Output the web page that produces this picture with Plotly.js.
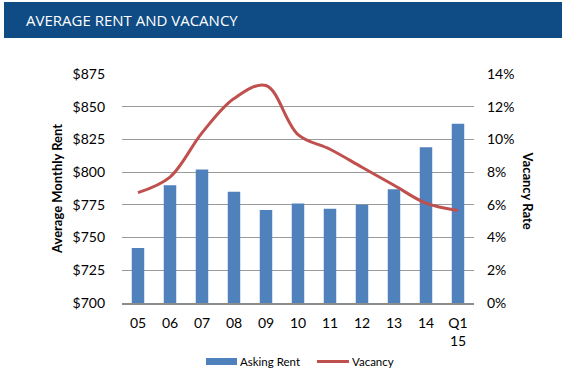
<!DOCTYPE html>
<html>
<head>
<meta charset="utf-8">
<script src="https://cdn.plot.ly/plotly-3.0.1.min.js"></script>
<style>html,body{margin:0;padding:0;background:#fff;}#chart{width:568px;height:385px;}</style>
</head>
<body>
<div id="chart"></div>
<script>
const categories = ["05","06","07","08","09","10","11","12","13","14","Q1<br>15"];
const askingRent = [742, 790, 802, 785, 771, 776, 772, 775, 787, 819, 837];
const vacancyRate = [6.75, 7.7, 10.4, 12.5, 13.3, 10.3, 9.4, 8.3, 7.2, 6.1, 5.65];
const rentTicks = [700, 725, 750, 775, 800, 825, 850, 875];
const rentTickText = rentTicks.map(v => "$" + v);
const vacTicks = [0, 2, 4, 6, 8, 10, 12, 14];
const vacTickText = vacTicks.map(v => v + "%");

const font = "Lato, 'Open Sans', sans-serif";
const rentColor = "#4f81bd";
const vacColor = "#c0504d";

const traces = [
  {
    type: "bar", name: "Asking Rent", x: categories, y: askingRent,
    marker: {color: rentColor}, yaxis: "y"
  },
  {
    type: "scatter", mode: "lines", name: "Vacancy", x: categories, y: vacancyRate,
    line: {color: vacColor, width: 3, shape: "spline", smoothing: 1}, yaxis: "y2"
  }
];

// plot area: x 122..474 (352px), y 74..303 (229px)
const PW = 352, PH = 229;
const px = v => (v - 122) / PW;
const py = v => (303 - v) / PH;

const layout = {
  width: 568, height: 385,
  margin: {l: 122, r: 94, t: 74, b: 82},
  paper_bgcolor: "#ffffff", plot_bgcolor: "rgba(0,0,0,0)",
  font: {family: font, size: 13, color: "#000"},
  bargap: 0.61,
  showlegend: false,
  xaxis: {type: "category", showgrid: false, showline: true, linecolor: "#8c8c8c", linewidth: 2,
          ticks: "", tickfont: {size: 14}, ticklabelstandoff: 6, automargin: false, fixedrange: true},
  yaxis: {range: [700, 875], tickvals: rentTicks, ticktext: rentTickText, showgrid: true,
          gridcolor: "#9a9a9a", gridwidth: 1, zeroline: false, showline: false, ticks: "",
          tickfont: {size: 14}, ticklabelstandoff: 16, automargin: false, layer: "below traces"},
  yaxis2: {range: [0, 14], tickvals: vacTicks, ticktext: vacTickText, overlaying: "y", side: "right",
           showgrid: false, zeroline: false, showline: false, ticks: "", tickfont: {size: 14},
           ticklabelstandoff: 12, automargin: false},
  shapes: [
    {type: "rect", xref: "paper", yref: "paper", x0: px(4), x1: px(562),
     y0: py(38), y1: py(2), fillcolor: "#0f4c85", line: {width: 0}, layer: "below"},
    {type: "rect", xref: "paper", yref: "paper", x0: px(206), x1: px(237),
     y0: py(365), y1: py(358), fillcolor: rentColor, line: {width: 0}},
    {type: "line", xref: "paper", yref: "paper", x0: px(317), x1: px(349),
     y0: py(361.5), y1: py(361.5), line: {color: vacColor, width: 3}}
  ],
  annotations: [
    {text: "AVERAGE RENT AND VACANCY", xref: "paper", yref: "paper", x: px(24), y: py(20),
     xanchor: "left", yanchor: "middle", showarrow: false,
     font: {family: "'Open Sans', sans-serif", size: 15, color: "#ffffff"}},
    {text: "<b>Average Monthly Rent</b>", xref: "paper", yref: "paper", x: px(57), y: py(189),
     xanchor: "center", yanchor: "middle", textangle: -90, showarrow: false,
     font: {size: 13, color: "#000"}},
    {text: "<b>Vacancy Rate</b>", xref: "paper", yref: "paper", x: px(527.5), y: py(190),
     xanchor: "center", yanchor: "middle", textangle: 90, showarrow: false,
     font: {size: 13, color: "#000"}},
    {text: "Asking Rent", xref: "paper", yref: "paper", x: px(238), y: py(361.5),
     xanchor: "left", yanchor: "middle", showarrow: false, font: {size: 11.5, color: "#000"}},
    {text: "Vacancy", xref: "paper", yref: "paper", x: px(350), y: py(361.5),
     xanchor: "left", yanchor: "middle", showarrow: false, font: {size: 11.5, color: "#000"}}
  ]
};

Plotly.newPlot("chart", traces, layout, {displayModeBar: false, staticPlot: true});
</script>
</body>
</html>
